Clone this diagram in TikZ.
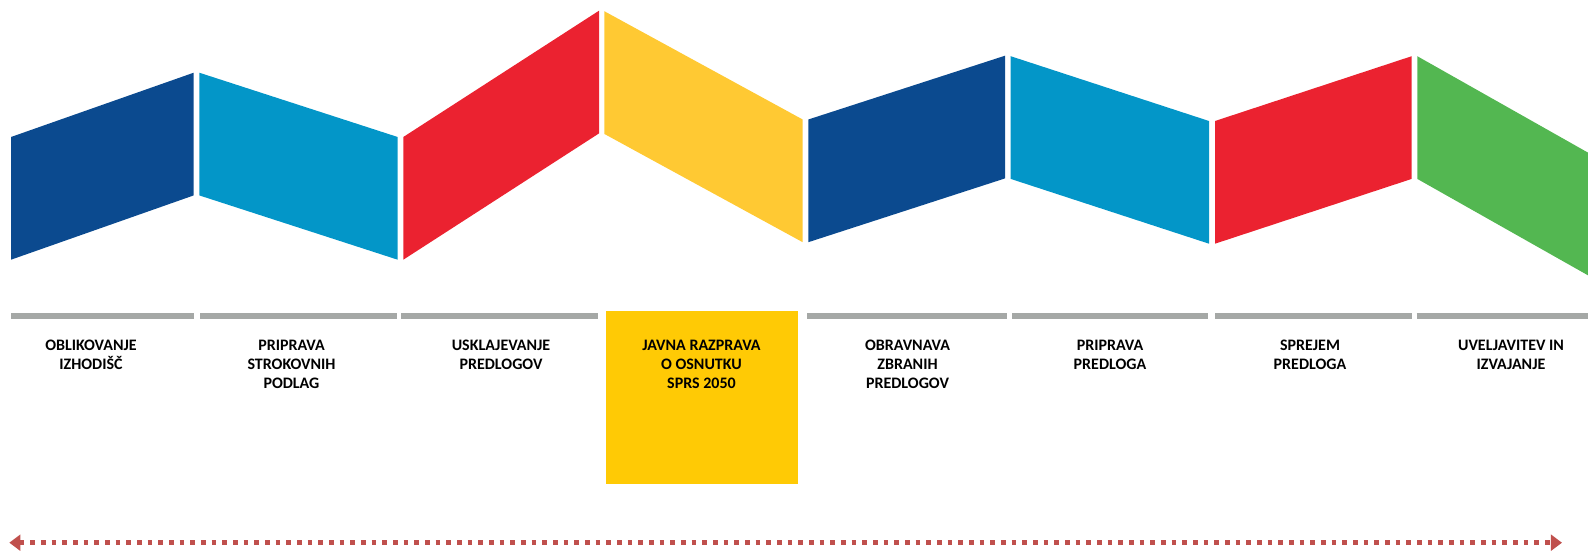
\documentclass[tikz,border=0pt]{standalone}
\usepackage{fontspec}
\setmainfont{Carlito}
\usetikzlibrary{arrows.meta}
\definecolor{darkblue}{HTML}{0B4A8F}
\definecolor{lightblue}{HTML}{0396C8}
\definecolor{stagered}{HTML}{EB2230}
\definecolor{stageyellow}{HTML}{FFC933}
\definecolor{stagegreen}{HTML}{53B751}
\definecolor{bargray}{HTML}{A5A8A6}
\definecolor{boxyellow}{HTML}{FFCA05}
\definecolor{arrowred}{HTML}{C0504D}

\begin{document}
\begin{tikzpicture}[
    x=0.75pt, y=-0.75pt,
    stage/.style={anchor=north, inner sep=0pt, align=center, font=\fontsize{12}{14.1}\selectfont\bfseries},
    bar/.style={line width=4.3pt, draw=bargray},
    timeline/.style={line width=3.5pt, draw=arrowred, dash pattern=on 3.5pt off 4.5pt,
        {Triangle[length=8.3pt, width=11.8pt, fill=arrowred]}-{Triangle[length=8.3pt, width=11.8pt, fill=arrowred]}},
]
\clip (0,0) rectangle (1588,551);

% Zig-zag band
\fill[darkblue]    (11,137)     -- (193.7,72.7) -- (193.7,195.4) -- (11,259.7)     -- cycle;
\fill[lightblue]   (199.3,72.7) -- (397.7,137)  -- (397.7,259.7) -- (199.3,195.4)  -- cycle;
\fill[stagered]    (403.3,137)  -- (599,10.7)   -- (599,133.4)   -- (403.3,259.7)  -- cycle;
\fill[stageyellow] (604.3,11.2) -- (802.7,119.5) -- (802.7,242.2) -- (604.3,133.9) -- cycle;
\fill[darkblue]    (808.3,119.5) -- (1005,55.7) -- (1005,178.4)  -- (808.3,242.2)  -- cycle;
\fill[lightblue]   (1010.7,56.2) -- (1209,121)  -- (1209,243.7)  -- (1010.7,178.9) -- cycle;
\fill[stagered]    (1215,121)   -- (1411.7,56.2) -- (1411.7,178.9) -- (1215,243.7) -- cycle;
\fill[stagegreen]  (1417.3,56.2) -- (1620,170.7) -- (1620,293.4) -- (1417.3,178.9) -- cycle;

% Gray bars
\draw[bar] (11,316.2)     -- (194,316.2);
\draw[bar] (200,316.2)    -- (397,316.2);
\draw[bar] (401,316.2)    -- (598,316.2);
\draw[bar] (807,316.2)    -- (1007.3,316.2);
\draw[bar] (1012,316.2)   -- (1208.3,316.2);
\draw[bar] (1215,316.2)   -- (1411.7,316.2);
\draw[bar] (1416.7,316.2) -- (1588,316.2);

% Highlighted stage
\fill[boxyellow] (606,311) rectangle (798,483.7);

% Stage labels
\node[stage] (oblikovanje) at (91,340)     {OBLIKOVANJE\\IZHODIŠČ};
\node[stage] (podlage)     at (291.5,340)  {PRIPRAVA\\STROKOVNIH\\PODLAG};
\node[stage] (usklaj)      at (501,340)    {USKLAJEVANJE\\PREDLOGOV};
\node[stage] (javna)       at (701.5,340)  {JAVNA RAZPRAVA\\O OSNUTKU\\SPRS 2050};
\node[stage] (obravnava)   at (907.5,340)  {OBRAVNAVA\\ZBRANIH\\PREDLOGOV};
\node[stage] (priprava)    at (1110,340)   {PRIPRAVA\\PREDLOGA};
\node[stage] (sprejem)     at (1310,340)   {SPREJEM\\PREDLOGA};
\node[stage] (uveljav)     at (1511,340)   {UVELJAVITEV IN\\IZVAJANJE};

% Timeline
\coordinate (tstart) at (9.3,542.7);
\coordinate (tend)   at (1562,542.7);
\draw[timeline] (tstart) -- (tend);

\end{tikzpicture}
\end{document}
